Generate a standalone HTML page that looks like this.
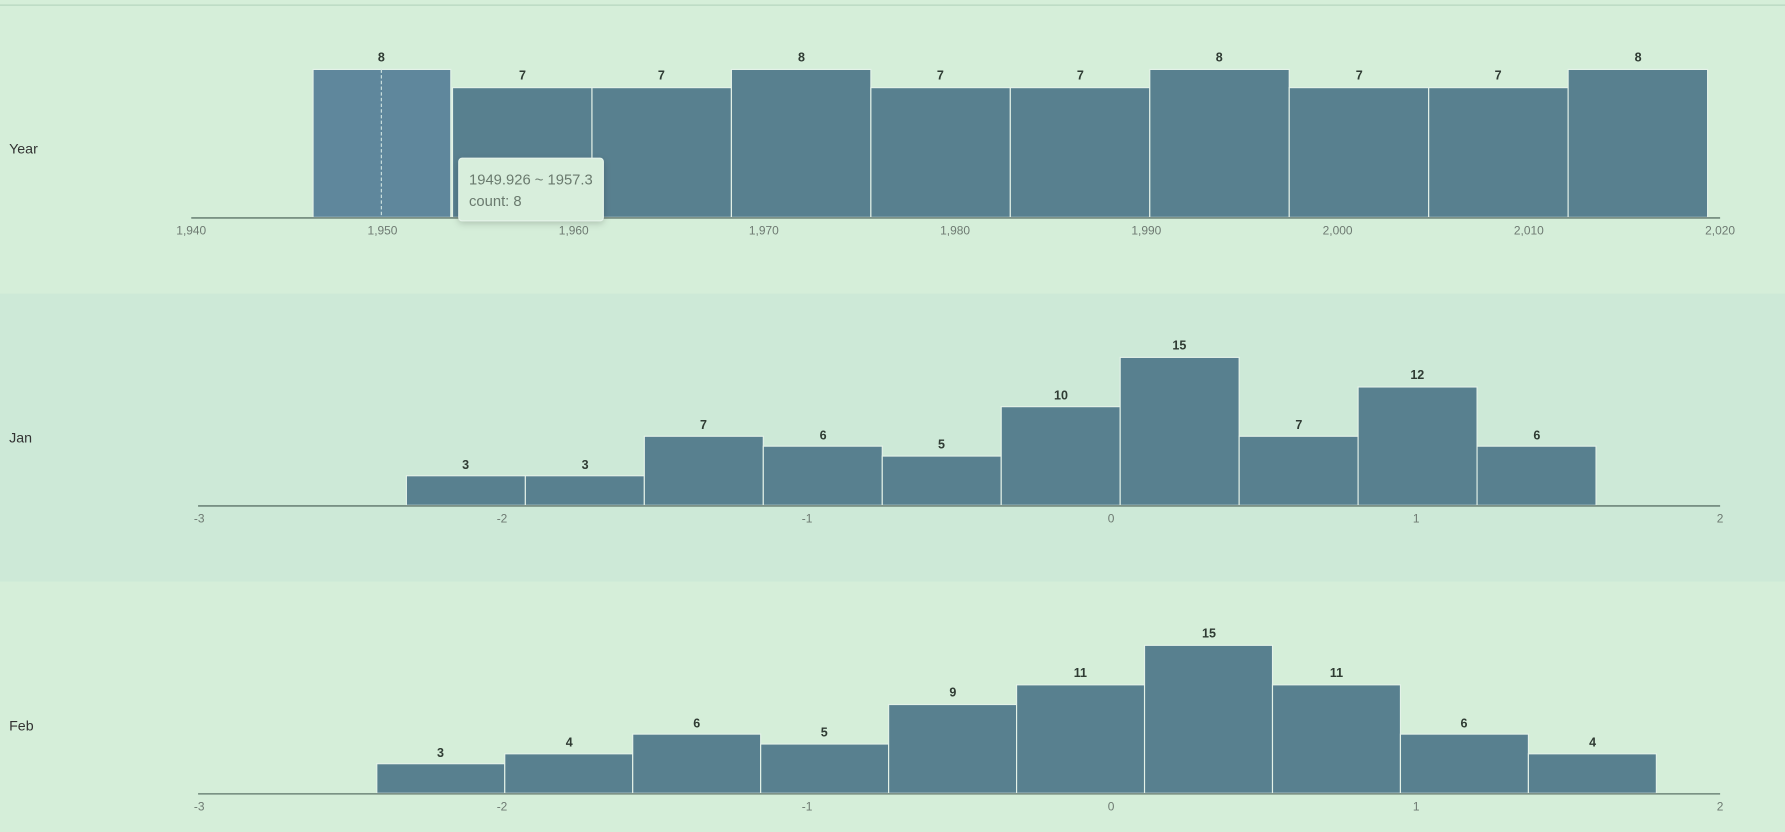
<!DOCTYPE html>
<html><head><meta charset="utf-8"><style>
html,body{margin:0;padding:0;width:1785px;height:832px;overflow:hidden;background:#d5eed9}
svg{display:block}
text{font-family:"Liberation Sans",sans-serif}
.v{font-size:11px;font-weight:bold;fill:#2f3b33;text-anchor:middle}
.t{font-size:10.5px;fill:#6e7a72;text-anchor:middle}
.l{font-size:12.5px;fill:#333}
.b{fill:#58808f;stroke:#e4f2e8;stroke-width:1}
.ax{stroke:#5c7368;stroke-width:1.2}
</style></head><body>
<svg width="1785" height="832" viewBox="0 0 1568 731" preserveAspectRatio="none">
<defs><filter id="sh" x="-20%" y="-20%" width="140%" height="150%"><feDropShadow dx="0" dy="2" stdDeviation="3" flood-color="#000" flood-opacity="0.18"/></filter></defs>
<rect x="0" y="0" width="1568" height="258" fill="#d5eed9"/>
<rect x="0" y="258" width="1568" height="253" fill="#cde9d7"/>
<rect x="0" y="511" width="1568" height="220" fill="#d5eed9"/>
<line x1="0" y1="4.5" x2="1568" y2="4.5" stroke="#b7d6bf" stroke-width="1"/>

<!-- Year -->
<text class="l" x="8" y="135">Year</text>
<g>
<rect x="275" y="61" width="121" height="130" fill="#5f879c" stroke="#e4f2e8"/>
<line x1="335" y1="61" x2="335" y2="191" stroke="#cfe3e0" stroke-dasharray="3,2"/>
<rect class="b" x="397.5" y="77" width="122.5" height="114"/>
<rect class="b" x="520" y="77" width="122.5" height="114"/>
<rect class="b" x="642.5" y="61" width="122.5" height="130"/>
<rect class="b" x="765" y="77" width="122.5" height="114"/>
<rect class="b" x="887.5" y="77" width="122.5" height="114"/>
<rect class="b" x="1010" y="61" width="122.5" height="130"/>
<rect class="b" x="1132.5" y="77" width="122.5" height="114"/>
<rect class="b" x="1255" y="77" width="122.5" height="114"/>
<rect class="b" x="1377.5" y="61" width="122.5" height="130"/>
</g>
<g class="v">
<text class="v" x="335" y="54">8</text><text class="v" x="459" y="70">7</text><text class="v" x="581" y="70">7</text>
<text class="v" x="704" y="54">8</text><text class="v" x="826" y="70">7</text><text class="v" x="949" y="70">7</text>
<text class="v" x="1071" y="54">8</text><text class="v" x="1194" y="70">7</text><text class="v" x="1316" y="70">7</text>
<text class="v" x="1439" y="54">8</text>
</g>
<line class="ax" x1="168" y1="191.5" x2="1511" y2="191.5"/>
<text class="t" x="168" y="206">1,940</text><text class="t" x="336" y="206">1,950</text><text class="t" x="504" y="206">1,960</text>
<text class="t" x="671" y="206">1,970</text><text class="t" x="839" y="206">1,980</text><text class="t" x="1007" y="206">1,990</text>
<text class="t" x="1175" y="206">2,000</text><text class="t" x="1343" y="206">2,010</text><text class="t" x="1511" y="206">2,020</text>

<!-- Jan -->
<text class="l" x="8" y="389">Jan</text>
<rect class="b" x="357" y="418" width="104.5" height="26"/>
<rect class="b" x="461.5" y="418" width="104.5" height="26"/>
<rect class="b" x="566" y="383.3" width="104.5" height="60.7"/>
<rect class="b" x="670.5" y="392" width="104.5" height="52"/>
<rect class="b" x="775" y="400.7" width="104.5" height="43.3"/>
<rect class="b" x="879.5" y="357.3" width="104.5" height="86.7"/>
<rect class="b" x="984" y="314" width="104.5" height="130"/>
<rect class="b" x="1088.5" y="383.3" width="104.5" height="60.7"/>
<rect class="b" x="1193" y="340" width="104.5" height="104"/>
<rect class="b" x="1297.5" y="392" width="104.5" height="52"/>
<text class="v" x="409" y="412">3</text><text class="v" x="514" y="412">3</text><text class="v" x="618" y="377">7</text>
<text class="v" x="723" y="386">6</text><text class="v" x="827" y="394">5</text><text class="v" x="932" y="351">10</text>
<text class="v" x="1036" y="307">15</text><text class="v" x="1141" y="377">7</text><text class="v" x="1245" y="333">12</text>
<text class="v" x="1350" y="386">6</text>
<line class="ax" x1="174" y1="444.5" x2="1511" y2="444.5"/>
<text class="t" x="175" y="459">-3</text><text class="t" x="441" y="459">-2</text><text class="t" x="709" y="459">-1</text>
<text class="t" x="976" y="459">0</text><text class="t" x="1244" y="459">1</text><text class="t" x="1511" y="459">2</text>

<!-- Feb -->
<text class="l" x="8" y="642">Feb</text>
<rect class="b" x="331" y="671" width="112.4" height="26"/>
<rect class="b" x="443.4" y="662.3" width="112.4" height="34.7"/>
<rect class="b" x="555.8" y="645" width="112.4" height="52"/>
<rect class="b" x="668.2" y="653.7" width="112.4" height="43.3"/>
<rect class="b" x="780.6" y="619" width="112.4" height="78"/>
<rect class="b" x="893" y="601.7" width="112.4" height="95.3"/>
<rect class="b" x="1005.4" y="567" width="112.4" height="130"/>
<rect class="b" x="1117.8" y="601.7" width="112.4" height="95.3"/>
<rect class="b" x="1230.2" y="645" width="112.4" height="52"/>
<rect class="b" x="1342.6" y="662.3" width="112.4" height="34.7"/>
<text class="v" x="387" y="665">3</text><text class="v" x="500" y="656">4</text><text class="v" x="612" y="639">6</text>
<text class="v" x="724" y="647">5</text><text class="v" x="837" y="612">9</text><text class="v" x="949" y="595">11</text>
<text class="v" x="1062" y="560">15</text><text class="v" x="1174" y="595">11</text><text class="v" x="1286" y="639">6</text>
<text class="v" x="1399" y="656">4</text>
<line class="ax" x1="174" y1="697.5" x2="1511" y2="697.5"/>
<text class="t" x="175" y="712">-3</text><text class="t" x="441" y="712">-2</text><text class="t" x="709" y="712">-1</text>
<text class="t" x="976" y="712">0</text><text class="t" x="1244" y="712">1</text><text class="t" x="1511" y="712">2</text>

<!-- tooltip -->
<rect x="403" y="139" width="127" height="55" rx="3" fill="#d8eedc" stroke="#e6f4ea" filter="url(#sh)"/>
<text x="412" y="162" style="font-size:13px;fill:#6a7a6e">1949.926 ~ 1957.3</text>
<text x="412" y="181" style="font-size:13px;fill:#6a7a6e">count:  8</text>
</svg>
</body></html>
